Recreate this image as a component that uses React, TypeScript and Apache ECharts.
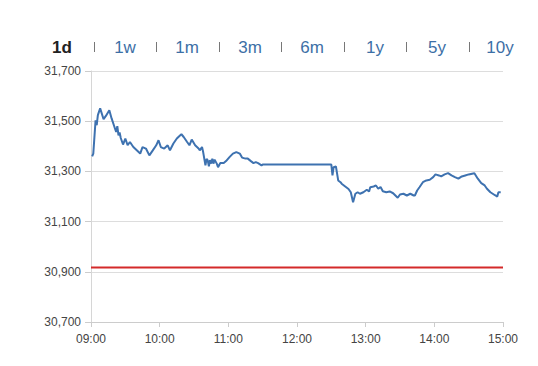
import React, { useEffect, useRef } from "react";
import * as echarts from "echarts";

const tabs = ["1d", "1w", "1m", "3m", "6m", "1y", "5y", "10y"];
const tabCenters = [62, 125, 187, 250, 312, 375, 437, 500];
const yTicks = [30700, 30900, 31100, 31300, 31500, 31700];
const xTickLabels = ["09:00", "10:00", "11:00", "12:00", "13:00", "14:00", "15:00"];
const prevClose = 30917;

const times = [
  "09:01", "09:02", "09:04", "09:05", "09:06", "09:08", "09:11", "09:13", "09:16", "09:18",
  "09:20", "09:21", "09:22", "09:23", "09:24", "09:25", "09:26", "09:28", "09:30", "09:32",
  "09:34", "09:37", "09:40", "09:43", "09:45", "09:48", "09:51", "09:54", "09:57", "09:59",
  "10:01", "10:04", "10:07", "10:09", "10:12", "10:15", "10:18", "10:19", "10:21", "10:24",
  "10:26", "10:28", "10:31", "10:34", "10:35", "10:37", "10:38", "10:40", "10:41", "10:42",
  "10:43", "10:44", "10:45", "10:46", "10:47", "10:48", "10:50", "10:51", "10:53", "10:56",
  "10:58", "11:01", "11:04", "11:07", "11:10", "11:12", "11:15", "11:17", "11:20", "11:22",
  "11:24", "11:26", "11:29", "11:30", "12:30", "12:31", "12:32", "12:34", "12:36", "12:38",
  "12:39", "12:41", "12:43", "12:45", "12:47", "12:49", "12:51", "12:53", "12:55", "12:58",
  "13:01", "13:03", "13:04", "13:07", "13:09", "13:11", "13:13", "13:15", "13:18", "13:21",
  "13:24", "13:28", "13:30", "13:33", "13:36", "13:39", "13:42", "13:43", "13:45", "13:47",
  "13:50", "13:53", "13:56", "13:59", "14:01", "14:04", "14:06", "14:09", "14:12", "14:15",
  "14:18", "14:21", "14:24", "14:27", "14:30", "14:33", "14:35", "14:38", "14:41", "14:44",
  "14:46", "14:49", "14:51", "14:53", "14:55", "14:56", "14:58",
];
const prices = [
  31360, 31371, 31504, 31484, 31524, 31551, 31508, 31521, 31544, 31511,
  31484, 31470, 31457, 31480, 31444, 31455, 31433, 31407, 31431, 31404,
  31417, 31397, 31384, 31371, 31397, 31391, 31364, 31384, 31404, 31424,
  31397, 31391, 31404, 31384, 31411, 31431, 31444, 31448, 31437, 31417,
  31404, 31427, 31404, 31391, 31384, 31397, 31377, 31324, 31350, 31344,
  31320, 31345, 31331, 31350, 31331, 31347, 31330, 31317, 31333, 31333,
  31341, 31357, 31371, 31377, 31371, 31355, 31351, 31351, 31340, 31333,
  31337, 31333, 31324, 31327, 31327, 31284, 31317, 31320, 31264, 31257,
  31251, 31244, 31237, 31230, 31217, 31177, 31211, 31217, 31211, 31217,
  31227, 31220, 31237, 31240, 31244, 31231, 31238, 31221, 31217, 31220,
  31213, 31195, 31208, 31211, 31204, 31211, 31204, 31204, 31224, 31237,
  31257, 31264, 31267, 31277, 31288, 31284, 31280, 31288, 31293, 31284,
  31277, 31271, 31280, 31284, 31288, 31291, 31293, 31271, 31253, 31244,
  31231, 31217, 31211, 31205, 31200, 31217, 31217,
];

const toMin = (t: string) => {
  const [h, m] = t.split(":").map(Number);
  return (h - 9) * 60 + m;
};

export default function App() {
  const ref = useRef<HTMLDivElement>(null);
  useEffect(() => {
    if (!ref.current) return;
    const chart = echarts.init(ref.current, undefined, { renderer: "svg" });
    const font = "'Liberation Sans', Arial, sans-serif";
    const graphics: any[] = [];
    tabs.forEach((t, i) => {
      graphics.push({
        type: "text",
        x: tabCenters[i],
        y: 47,
        style: {
          text: t,
          fontSize: 17,
          fontFamily: font,
          fontWeight: i === 0 ? "bold" : "normal",
          fill: i === 0 ? "#222222" : "#3d6fa6",
          align: "center",
          verticalAlign: "middle",
        },
      });
      if (i < tabs.length - 1) {
        graphics.push({
          type: "rect",
          shape: {
            x: Math.round((tabCenters[i] + tabCenters[i + 1]) / 2),
            y: 42,
            width: 1,
            height: 10,
          },
          style: { fill: "#777777" },
        });
      }
    });
    chart.setOption({
      animation: false,
      grid: { left: 91, right: 35, top: 71, bottom: 44, containLabel: false },
      graphic: graphics,
      xAxis: {
        type: "value",
        min: 0,
        max: 360,
        interval: 60,
        axisLine: { show: true, lineStyle: { color: "#cccccc" } },
        axisTick: { show: true, length: 5, lineStyle: { color: "#cccccc" } },
        splitLine: { show: false },
        axisLabel: {
          color: "#444444",
          fontSize: 12,
          fontFamily: font,
          margin: 11,
          formatter: (v: number) => xTickLabels[Math.round(v / 60)] ?? "",
        },
      },
      yAxis: {
        type: "value",
        min: yTicks[0],
        max: yTicks[yTicks.length - 1],
        interval: 200,
        axisLine: { show: true, lineStyle: { color: "#d6d6d6" } },
        axisTick: { show: true, length: 6, lineStyle: { color: "#cccccc" } },
        splitLine: { show: true, lineStyle: { color: "#dddddd" } },
        axisLabel: {
          color: "#444444",
          fontSize: 12,
          fontFamily: font,
          margin: 10,
          formatter: (v: number) => v.toLocaleString("en-US"),
        },
      },
      series: [
        {
          type: "line",
          data: times.map((t, i) => [toMin(t), prices[i]]),
          showSymbol: false,
          lineStyle: { color: "#3e72b0", width: 2 },
          z: 3,
        },
        {
          type: "line",
          data: [[0, prevClose], [360, prevClose]],
          showSymbol: false,
          lineStyle: { color: "#d42a2a", width: 2 },
          z: 2,
        },
      ],
    });
    return () => chart.dispose();
  }, []);
  return <div ref={ref} style={{ width: 538, height: 366, position: "absolute", left: 0, top: 0 }} />;
}
